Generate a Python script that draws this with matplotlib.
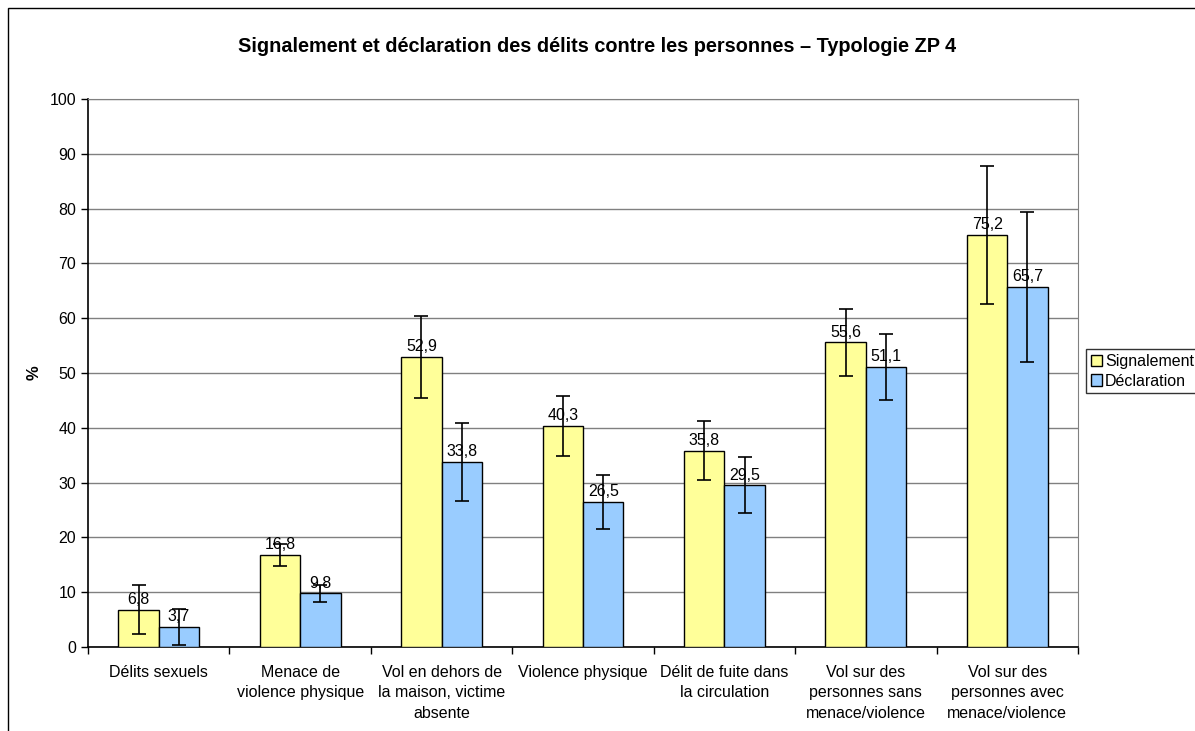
import numpy as np
import matplotlib
matplotlib.use("Agg")
import matplotlib.pyplot as plt
from matplotlib.patches import Rectangle

plt.rcParams['font.family'] = ['Liberation Sans', 'DejaVu Sans']

categories = [
    "Délits sexuels",
    "Menace de\nviolence physique",
    "Vol en dehors de\nla maison, victime\nabsente",
    "Violence physique",
    "Délit de fuite dans\nla circulation",
    "Vol sur des\npersonnes sans\nmenace/violence",
    "Vol sur des\npersonnes avec\nmenace/violence",
]
signalement = [6.8, 16.8, 52.9, 40.3, 35.8, 55.6, 75.2]
declaration = [3.7, 9.8, 33.8, 26.5, 29.5, 51.1, 65.7]
err_signalement = [4.5, 2.0, 7.5, 5.5, 5.4, 6.1, 12.6]
err_declaration = [3.3, 1.6, 7.1, 4.9, 5.1, 6.1, 13.7]

fig = plt.figure(figsize=(11.95, 7.31), dpi=100)
ax = fig.add_axes([88 / 1195, 1 - 647 / 731, (1078 - 88) / 1195, (647 - 99) / 731])

x = np.arange(len(categories))
w = 1 / 3.5
fs = 11.5

ax.bar(x - w / 2, signalement, w, color="#ffff99", edgecolor="black", linewidth=1.0,
       yerr=err_signalement, error_kw=dict(ecolor="black", elinewidth=1.2, capsize=5, capthick=1.2),
       label="Signalement", zorder=3)
ax.bar(x + w / 2, declaration, w, color="#99ccff", edgecolor="black", linewidth=1.0,
       yerr=err_declaration, error_kw=dict(ecolor="black", elinewidth=1.2, capsize=5, capthick=1.2),
       label="Déclaration", zorder=3)

for i in range(len(categories)):
    ax.annotate(f"{signalement[i]:.1f}".replace(".", ","), (x[i] - w / 2, signalement[i]),
                xytext=(0, 2), textcoords="offset points", ha="center", va="bottom",
                fontsize=fs, zorder=5)
    ax.annotate(f"{declaration[i]:.1f}".replace(".", ","), (x[i] + w / 2, declaration[i]),
                xytext=(0, 2), textcoords="offset points", ha="center", va="bottom",
                fontsize=fs, zorder=5)

ax.set_xlim(-0.5, len(categories) - 0.5)
ax.set_ylim(0, 100)
ax.set_yticks(range(0, 101, 10))
ax.yaxis.grid(True, color="#808080", linewidth=1.0, zorder=0)
ax.tick_params(axis="y", labelsize=fs, direction="out", length=5, width=1)

# category boundaries as ticks, labels in the middle
ax.set_xticks(np.arange(-0.5, len(categories), 1.0))
ax.set_xticklabels([])
ax.set_xticks(x, minor=True)
ax.set_xticklabels(categories, minor=True, fontsize=fs, linespacing=1.45)
ax.tick_params(axis="x", which="minor", length=0, pad=13)
ax.tick_params(axis="x", which="major", direction="out", length=5, width=1)

for s in ["top", "right"]:
    ax.spines[s].set_color("#808080")
for s in ["left", "bottom"]:
    ax.spines[s].set_color("black")
    ax.spines[s].set_linewidth(1.2)

ax.set_ylabel("%", fontsize=12, fontweight="bold", labelpad=6)

fig.text(0.5, 1 - 47 / 731, "Signalement et déclaration des délits contre les personnes – Typologie ZP 4",
         ha="center", va="center", fontsize=14.3, fontweight="bold")

leg = fig.legend(loc="upper left", bbox_to_anchor=(1086 / 1195, 1 - 349 / 731),
                 fontsize=fs, frameon=True, fancybox=False, edgecolor="black",
                 handlelength=0.7, handleheight=0.7, handletextpad=0.2,
                 borderpad=0.3, labelspacing=0.3, borderaxespad=0)
leg.get_frame().set_linewidth(1.0)

# outer chart border
fig.patches.append(Rectangle((8 / 1195, -0.1), 1.2, 1 - 8 / 731 + 0.1, transform=fig.transFigure,
                             fill=False, edgecolor="black", linewidth=1.0))

fig.savefig("out.png", dpi=100)
